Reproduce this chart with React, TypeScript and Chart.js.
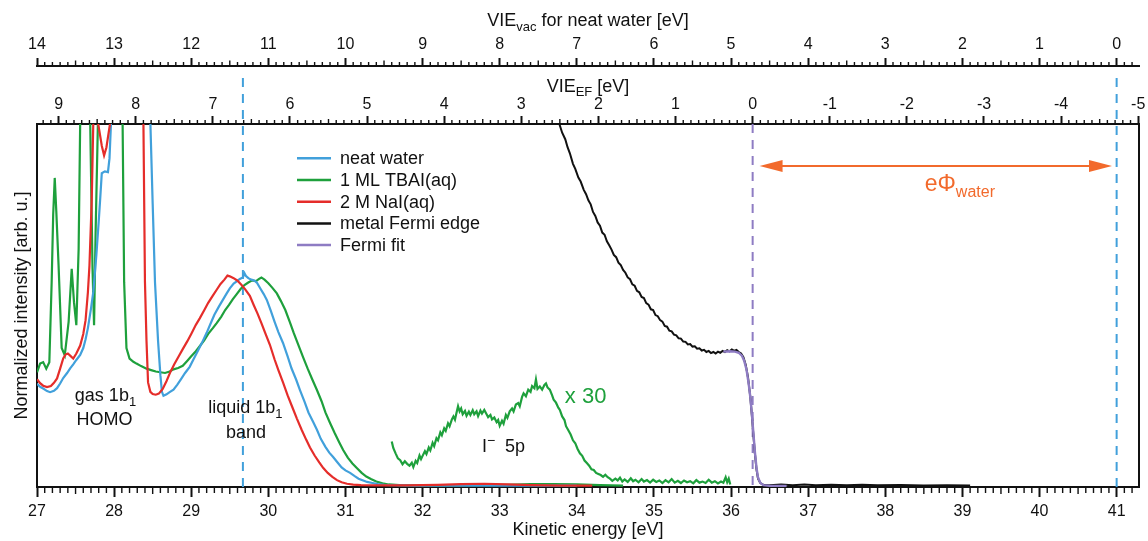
import { useEffect, useRef } from "react";
import { Chart, registerables } from "chart.js";

Chart.register(...registerables);

const FONT = "'Liberation Sans', Arial, Helvetica, sans-serif";
const TEXT = "#111111";
const AXIS = "#111111";
const BLUE = "#41a0db";
const GREEN = "#1ea03c";
const RED = "#e52d2a";
const BLACK = "#111111";
const PURPLE = "#8e7cc3";
const ORANGE = "#f26a2c";

// kinetic-energy range of the bottom axis [eV]
const KE_MIN = 27;
const KE_MAX = 41.29;
// reference energies used by the two top axes
const FERMI_KE = 36.28; // VIE_EF = FERMI_KE - KE
const VACUUM_KE = 41.0; // VIE_vac = VACUUM_KE - KE
const LIQUID_PEAK_KE = 29.67;

// ---- series: [kinetic energy (eV), normalized intensity] ----
const neatWater: [number, number][] = [
  [27.0, 28.2], [27.04, 27.4], [27.08, 26.9], [27.13, 26.2], [27.17, 25.9], [27.22, 26.3], [27.26, 27.0],
  [27.3, 28.3], [27.34, 29.8], [27.39, 31.2], [27.43, 32.5], [27.47, 33.6], [27.51, 34.8], [27.56, 36.2],
  [27.6, 38.1], [27.63, 40.5], [27.66, 43.6], [27.7, 49.0], [27.73, 53.6], [27.77, 63.8], [27.8, 73.0],
  [27.82, 79.5], [27.84, 86.4], [27.88, 86.9], [27.92, 86.7], [27.94, 90.5], [27.96, 100.5], [27.98, 130],
  [28.44, 130], [28.47, 100.5], [28.5, 78], [28.53, 56.3], [28.57, 40], [28.6, 30.6], [28.62, 26.0],
  [28.64, 24.9], [28.68, 25.3], [28.72, 25.9], [28.77, 26.6], [28.82, 28.0], [28.87, 29.6], [28.92, 31.2],
  [28.98, 32.9], [29.03, 35.0], [29.09, 37.5], [29.14, 39.6], [29.2, 42.3], [29.25, 44.8], [29.3, 47.3],
  [29.36, 49.6], [29.41, 51.4], [29.46, 53.2], [29.5, 54.6], [29.55, 55.9], [29.59, 56.5], [29.63, 57.2],
  [29.67, 57.6], [29.69, 58.8], [29.71, 58.0], [29.74, 57.4], [29.78, 57.0], [29.82, 56.7], [29.85, 56.2],
  [29.9, 54.4], [29.94, 53.0], [29.98, 51.4], [30.03, 48.5], [30.08, 45.4], [30.13, 42.5], [30.19, 39.5],
  [30.25, 35.8], [30.3, 32.5], [30.36, 29.4], [30.41, 26.5], [30.47, 23.2], [30.52, 20.3], [30.58, 17.7],
  [30.63, 15.5], [30.68, 13.0], [30.74, 10.8], [30.79, 9.2], [30.84, 8.0], [30.9, 6.4], [30.95, 5.1],
  [31.0, 4.3], [31.06, 3.6], [31.12, 2.7], [31.17, 2.0], [31.23, 1.5], [31.28, 1.1], [31.35, 0.8],
  [31.42, 0.5], [31.5, 0.3], [31.6, 0.2], [31.75, 0.15], [31.9, 0.1], [32.1, 0.1], [32.4, 0.1],
  [32.8, 0.1], [33.2, 0.1], [33.6, 0.1], [34.0, 0.1],
];

const tbai: [number, number][] = [
  [27.0, 31.4], [27.04, 33.8], [27.08, 34.2], [27.12, 32.4], [27.16, 34.2], [27.19, 56.2], [27.21, 75],
  [27.23, 85.1], [27.25, 76], [27.28, 60.8], [27.32, 38.1], [27.36, 36.1], [27.41, 45.3], [27.45, 60.0],
  [27.48, 50.7], [27.51, 44.4], [27.54, 65.6], [27.56, 100.5], [27.58, 130], [27.67, 130], [27.69, 100.5],
  [27.72, 60], [27.74, 44.4], [27.76, 70], [27.79, 100.5], [27.81, 130], [28.09, 130], [28.11, 100.5],
  [28.13, 56.3], [28.16, 38.1], [28.2, 35.2], [28.25, 34.3], [28.29, 33.8], [28.35, 33.1], [28.42, 32.4],
  [28.48, 32.0], [28.54, 31.6], [28.6, 31.4], [28.66, 31.2], [28.72, 31.6], [28.77, 32.2], [28.83, 32.6],
  [28.89, 33.2], [28.95, 34.6], [29.0, 35.8], [29.06, 37.2], [29.11, 38.6], [29.17, 40.3], [29.22, 42.0],
  [29.28, 43.6], [29.33, 45.0], [29.39, 46.8], [29.44, 48.6], [29.49, 50.0], [29.54, 51.6], [29.59, 53.0],
  [29.64, 54.4], [29.69, 55.5], [29.74, 56.2], [29.79, 56.8], [29.84, 56.6], [29.88, 57.2], [29.91, 57.6],
  [29.95, 57.0], [30.0, 56.0], [30.05, 54.8], [30.11, 53.2], [30.16, 51.2], [30.22, 48.6], [30.28, 45.2],
  [30.33, 42.2], [30.39, 38.9], [30.45, 35.6], [30.51, 32.4], [30.57, 29.4], [30.63, 26.5], [30.69, 23.4],
  [30.74, 20.3], [30.8, 17.4], [30.86, 14.6], [30.92, 12.0], [30.97, 9.9], [31.03, 7.8], [31.09, 6.2],
  [31.15, 4.9], [31.21, 3.6], [31.27, 2.6], [31.33, 1.9], [31.4, 1.2], [31.48, 0.7], [31.56, 0.4],
  [31.7, 0.2], [31.9, 0.15], [32.3, 0.15], [32.7, 0.2], [33.1, 0.3], [33.4, 0.5], [33.7, 0.5],
  [34.0, 0.4], [34.3, 0.2], [34.6, 0.1],
];

// I- 5p region of the TBAI spectrum, magnified x 30
const tbaiX30: [number, number][] = [
  [31.6, 12.3], [31.62, 10.5], [31.65, 9.0], [31.68, 7.6], [31.71, 7.1], [31.74, 6.0], [31.77, 6.8],
  [31.8, 6.1], [31.83, 5.6], [31.86, 6.4], [31.88, 5.2], [31.91, 6.9], [31.93, 6.3], [31.96, 8.4],
  [31.98, 7.4], [32.0, 8.3], [32.03, 9.6], [32.05, 8.8], [32.08, 10.6], [32.1, 9.8], [32.13, 11.9],
  [32.15, 11.0], [32.18, 13.2], [32.2, 12.6], [32.23, 14.8], [32.25, 14.0], [32.28, 15.9], [32.3, 15.2],
  [32.33, 17.3], [32.35, 16.5], [32.38, 18.4], [32.4, 19.2], [32.42, 18.3], [32.44, 20.2], [32.46, 22.0],
  [32.48, 20.6], [32.5, 21.4], [32.52, 19.8], [32.55, 20.7], [32.57, 19.4], [32.6, 20.5], [32.62, 19.6],
  [32.65, 20.9], [32.67, 19.8], [32.7, 20.6], [32.72, 19.3], [32.75, 20.8], [32.77, 20.0], [32.8, 21.0],
  [32.83, 19.8], [32.85, 19.0], [32.88, 19.6], [32.9, 18.4], [32.93, 18.9], [32.96, 17.6], [32.98, 18.2],
  [33.0, 16.6], [33.03, 18.0], [33.05, 17.2], [33.08, 19.6], [33.1, 18.8], [33.13, 20.6], [33.16, 21.4],
  [33.18, 20.6], [33.21, 22.5], [33.24, 22.9], [33.26, 22.0], [33.29, 24.6], [33.31, 25.6], [33.34, 24.8],
  [33.37, 26.6], [33.4, 26.0], [33.42, 27.6], [33.45, 27.0], [33.47, 29.4], [33.49, 26.8], [33.52, 27.5],
  [33.55, 26.6], [33.58, 27.9], [33.6, 28.3], [33.62, 27.2], [33.65, 26.6], [33.68, 25.0], [33.7, 23.8],
  [33.73, 23.0], [33.76, 21.6], [33.78, 21.0], [33.81, 19.2], [33.84, 18.2], [33.86, 16.5], [33.89, 15.4],
  [33.92, 14.2], [33.95, 12.6], [33.98, 11.8], [34.01, 10.2], [34.04, 9.0], [34.07, 8.3], [34.1, 7.0],
  [34.13, 6.3], [34.16, 5.6], [34.19, 4.6], [34.22, 4.4], [34.25, 3.6], [34.28, 3.3], [34.31, 3.0],
  [34.34, 2.5], [34.37, 3.1], [34.4, 2.4], [34.43, 2.0], [34.46, 1.4], [34.5, 2.0], [34.53, 1.5],
  [34.56, 2.3], [34.59, 1.2], [34.62, 1.8], [34.66, 1.1], [34.7, 2.1], [34.73, 1.3], [34.76, 1.7],
  [34.8, 1.0], [34.84, 1.9], [34.87, 1.2], [34.91, 1.6], [34.95, 0.9], [34.99, 1.7], [35.03, 1.1],
  [35.07, 1.5], [35.11, 0.8], [35.15, 1.6], [35.19, 1.0], [35.23, 1.9], [35.27, 0.9], [35.31, 1.4],
  [35.35, 0.8], [35.39, 1.5], [35.43, 1.0], [35.47, 1.3], [35.51, 0.7], [35.55, 1.6], [35.59, 0.9],
  [35.63, 1.2], [35.67, 0.8], [35.71, 1.7], [35.75, 0.9], [35.79, 1.3], [35.83, 0.7], [35.87, 1.2],
  [35.9, 0.9], [35.93, 2.4], [35.95, 1.0], [35.97, 2.0], [35.99, 0.4],
];

const nai: [number, number][] = [
  [27.0, 29.5], [27.04, 28.4], [27.08, 27.7], [27.13, 27.3], [27.18, 27.6], [27.22, 28.5], [27.26, 29.7],
  [27.3, 32.4], [27.34, 35.2], [27.37, 36.3], [27.4, 36.6], [27.43, 36.0], [27.47, 35.2], [27.51, 36.6],
  [27.56, 38.8], [27.6, 42.0], [27.63, 45.8], [27.66, 53.5], [27.68, 60.8], [27.71, 79.3], [27.73, 100.5],
  [27.75, 130], [27.77, 130], [27.79, 100.5], [27.84, 94], [27.87, 91.3], [27.9, 93.5], [27.95, 100.5],
  [27.97, 130], [28.36, 130], [28.38, 100.5], [28.4, 56.3], [28.42, 40], [28.44, 28.6], [28.47, 26.0],
  [28.5, 25.4], [28.54, 25.2], [28.58, 25.5], [28.63, 26.8], [28.68, 29.0], [28.73, 31.5], [28.78, 33.6],
  [28.84, 35.9], [28.89, 37.8], [28.95, 40.0], [29.0, 42.0], [29.06, 44.5], [29.11, 46.3], [29.17, 48.6],
  [29.22, 50.6], [29.28, 52.6], [29.33, 54.2], [29.38, 55.8], [29.43, 57.0], [29.47, 58.1], [29.5, 57.9],
  [29.55, 57.4], [29.6, 56.7], [29.65, 55.6], [29.7, 54.3], [29.76, 52.5], [29.81, 50.0], [29.86, 47.6],
  [29.91, 45.0], [29.96, 42.2], [30.02, 39.0], [30.08, 35.0], [30.13, 32.0], [30.19, 28.6], [30.25, 25.0],
  [30.31, 21.8], [30.37, 18.6], [30.43, 15.6], [30.49, 12.8], [30.54, 10.6], [30.6, 8.4], [30.66, 6.5],
  [30.71, 5.0], [30.77, 3.6], [30.83, 2.5], [30.89, 1.6], [30.95, 1.0], [31.02, 0.6], [31.1, 0.35],
  [31.2, 0.2], [31.4, 0.15], [31.8, 0.15], [32.2, 0.3], [32.5, 0.5], [32.8, 0.6], [33.1, 0.4],
  [33.4, 0.2], [33.8, 0.1], [34.2, 0.1],
];

const metalEdge: [number, number][] = [
  [33.7, 106], [33.74, 102.2], [33.78, 99.6], [33.81, 97.6], [33.85, 95.8], [33.88, 93.6], [33.91, 91.9],
  [33.95, 89.0], [33.98, 87.6], [34.02, 85.2], [34.05, 84.1], [34.09, 81.8], [34.12, 80.6], [34.15, 78.9],
  [34.18, 77.8], [34.21, 75.7], [34.24, 74.6], [34.27, 72.8], [34.3, 71.9], [34.33, 70.0], [34.36, 69.4],
  [34.39, 67.6], [34.42, 66.5], [34.45, 65.3], [34.48, 63.8], [34.51, 63.2], [34.54, 61.7], [34.57, 61.0],
  [34.6, 59.7], [34.63, 58.9], [34.66, 57.6], [34.69, 57.1], [34.72, 55.7], [34.75, 55.3], [34.78, 53.9],
  [34.81, 53.5], [34.84, 52.2], [34.87, 51.9], [34.9, 50.5], [34.93, 50.1], [34.96, 48.8], [34.99, 48.6],
  [35.02, 47.2], [35.05, 46.9], [35.08, 45.8], [35.11, 45.4], [35.14, 44.2], [35.17, 44.0], [35.2, 42.9],
  [35.23, 42.7], [35.26, 41.8], [35.29, 41.6], [35.32, 40.8], [35.35, 40.7], [35.38, 39.9], [35.41, 39.8],
  [35.44, 39.1], [35.47, 39.2], [35.5, 38.5], [35.53, 38.6], [35.56, 37.9], [35.59, 38.0], [35.62, 37.4],
  [35.65, 37.6], [35.68, 37.0], [35.71, 37.3], [35.74, 36.7], [35.77, 37.0], [35.8, 36.6], [35.83, 37.1],
  [35.86, 36.8], [35.89, 37.3], [35.92, 37.0], [35.95, 37.5], [35.98, 37.2], [36.01, 37.7], [36.04, 37.3],
  [36.07, 37.6], [36.1, 37.0], [36.13, 36.6], [36.16, 35.6], [36.19, 33.5], [36.22, 30.0], [36.25, 24.5],
  [36.27, 19.5], [36.29, 14.0], [36.31, 8.8], [36.33, 4.6], [36.35, 2.0], [36.38, 0.8], [36.42, 0.3],
  [36.5, 0.2], [36.65, 0.4], [36.8, 0.2], [36.95, 0.4], [37.1, 0.2], [37.3, 0.35], [37.5, 0.2],
  [37.7, 0.3], [37.9, 0.15], [38.2, 0.25], [38.5, 0.1], [38.8, 0.2], [39.1, 0.1],
];

const fermiFit: [number, number][] = [
  [35.9, 37.1], [35.98, 37.2], [36.05, 37.1], [36.1, 36.8], [36.14, 36.0], [36.17, 34.6], [36.2, 32.2],
  [36.23, 28.0], [36.25, 24.5], [36.27, 19.8], [36.29, 14.5], [36.31, 9.2], [36.33, 5.0], [36.35, 2.3],
  [36.38, 0.8], [36.42, 0.2], [36.5, 0.05], [36.72, 0.0],
];

const seriesLabels = ["neat water", "1 ML TBAI(aq)", "2 M NaI(aq)", "metal Fermi edge", "Fermi fit"];
const seriesColors = [BLUE, GREEN, RED, BLACK, PURPLE];

type Part = { t: string; size?: number; dy?: number };
type Note = { ke: number; val: number; align: "left" | "center"; size: number; color: string; parts: Part[] };

// text annotations, anchored in data coordinates (kinetic energy, intensity)
const notes: Note[] = [
  { ke: 27.888, val: 23.4, align: "center", size: 18, color: TEXT, parts: [{ t: "gas 1b" }, { t: "1", size: 13, dy: 5 }] },
  { ke: 27.875, val: 16.8, align: "center", size: 18, color: TEXT, parts: [{ t: "HOMO" }] },
  { ke: 29.703, val: 20.1, align: "center", size: 18, color: TEXT, parts: [{ t: "liquid 1b" }, { t: "1", size: 13, dy: 5 }] },
  { ke: 29.709, val: 13.2, align: "center", size: 18, color: TEXT, parts: [{ t: "band" }] },
  { ke: 32.769, val: 9.4, align: "left", size: 18, color: TEXT, parts: [{ t: "I" }, { t: "\u2212", size: 14, dy: -7 }, { t: "  5p" }] },
  { ke: 33.844, val: 22.8, align: "left", size: 22, color: GREEN, parts: [{ t: "x 30" }] },
  { ke: 38.511, val: 81.5, align: "left", size: 23, color: ORANGE, parts: [{ t: "e\u03A6" }, { t: "water", size: 16, dy: 6 }] },
];

// work-function arrow (kinetic energy from/to, intensity level)
const arrowFromKE = 36.37;
const arrowToKE = 40.94;
const arrowLevel = 88.4;

function drawParts(ctx: CanvasRenderingContext2D, parts: Part[], x: number, y: number, align: string, base: number, color: string) {
  ctx.save();
  ctx.fillStyle = color;
  ctx.textBaseline = "alphabetic";
  ctx.textAlign = "left";
  let w = 0;
  for (const p of parts) {
    ctx.font = `${p.size ?? base}px ${FONT}`;
    w += ctx.measureText(p.t).width;
  }
  let cx = align === "center" ? x - w / 2 : x;
  for (const p of parts) {
    ctx.font = `${p.size ?? base}px ${FONT}`;
    ctx.fillText(p.t, cx, y + (p.dy ?? 0));
    cx += ctx.measureText(p.t).width;
  }
  ctx.restore();
}

function drawMinorTicks(ctx: CanvasRenderingContext2D, scale: any, side: "top" | "bottom", minor: number, mid: number) {
  const lo = Math.ceil(scale.min * 10 - 1e-6);
  const hi = Math.floor(scale.max * 10 + 1e-6);
  ctx.save();
  ctx.strokeStyle = AXIS;
  ctx.lineWidth = 1.4;
  ctx.beginPath();
  for (let i = lo; i <= hi; i++) {
    const r = ((i % 10) + 10) % 10;
    if (r === 0) continue;
    const len = r === 5 ? mid : minor;
    const px = scale.getPixelForValue(i / 10);
    if (side === "bottom") {
      ctx.moveTo(px, scale.top);
      ctx.lineTo(px, scale.top + len);
    } else {
      ctx.moveTo(px, scale.bottom);
      ctx.lineTo(px, scale.bottom - len);
    }
  }
  ctx.stroke();
  ctx.restore();
}

const overlayPlugin = {
  id: "overlay",
  beforeDatasetsDraw(chart: any) {
    const { ctx, chartArea, scales } = chart;
    const x = scales.x;
    const markers = [
      { ke: LIQUID_PEAK_KE, color: BLUE, top: scales.xVac.bottom + 12 },
      { ke: VACUUM_KE, color: BLUE, top: scales.xVac.bottom + 12 },
      { ke: FERMI_KE, color: PURPLE, top: chartArea.top },
    ];
    ctx.save();
    ctx.setLineDash([9, 7]);
    ctx.lineWidth = 2;
    for (const m of markers) {
      const px = x.getPixelForValue(m.ke);
      ctx.strokeStyle = m.color;
      ctx.beginPath();
      ctx.moveTo(px, m.top);
      ctx.lineTo(px, chartArea.bottom);
      ctx.stroke();
    }
    ctx.restore();
  },
  afterDatasetsDraw(chart: any) {
    const { ctx, chartArea, scales } = chart;
    const x = scales.x;
    const y = scales.y;

    // work-function double arrow
    const x1 = x.getPixelForValue(arrowFromKE);
    const x2 = x.getPixelForValue(arrowToKE);
    const ya = y.getPixelForValue(arrowLevel);
    const head = 23;
    const half = 6;
    ctx.save();
    ctx.strokeStyle = ORANGE;
    ctx.fillStyle = ORANGE;
    ctx.lineWidth = 2.2;
    ctx.beginPath();
    ctx.moveTo(x1 + head - 2, ya);
    ctx.lineTo(x2 - head + 2, ya);
    ctx.stroke();
    ctx.beginPath();
    ctx.moveTo(x1, ya);
    ctx.lineTo(x1 + head, ya - half);
    ctx.lineTo(x1 + head, ya + half);
    ctx.closePath();
    ctx.fill();
    ctx.beginPath();
    ctx.moveTo(x2, ya);
    ctx.lineTo(x2 - head, ya - half);
    ctx.lineTo(x2 - head, ya + half);
    ctx.closePath();
    ctx.fill();
    ctx.restore();

    // annotations
    for (const n of notes) {
      drawParts(ctx, n.parts, x.getPixelForValue(n.ke), y.getPixelForValue(n.val), n.align, n.size, n.color);
    }

    // legend
    const lx = chartArea.left + 260;
    const ly = chartArea.top + 34.3;
    ctx.save();
    ctx.font = `18px ${FONT}`;
    ctx.textBaseline = "middle";
    ctx.textAlign = "left";
    seriesLabels.forEach((label, i) => {
      const yy = ly + i * 21.7;
      ctx.strokeStyle = seriesColors[i];
      ctx.lineWidth = 2.5;
      ctx.beginPath();
      ctx.moveTo(lx, yy);
      ctx.lineTo(lx + 34, yy);
      ctx.stroke();
      ctx.fillStyle = TEXT;
      ctx.fillText(label, lx + 43, yy + 1);
    });
    ctx.restore();
  },
  afterDraw(chart: any) {
    const { ctx, scales, chartArea } = chart;
    drawMinorTicks(ctx, scales.x, "bottom", 6, 7);
    drawMinorTicks(ctx, scales.xEF, "top", 4, 5);
    drawMinorTicks(ctx, scales.xVac, "top", 4, 5.5);
    const cx = (chartArea.left + chartArea.right) / 2;
    drawParts(ctx, [{ t: "VIE" }, { t: "vac", size: 13, dy: 5 }, { t: " for neat water [eV]" }], cx, scales.xVac.top + 26, "center", 18, TEXT);
    drawParts(ctx, [{ t: "VIE" }, { t: "EF", size: 13, dy: 4 }, { t: " [eV]" }], cx, scales.xEF.top + 25.7, "center", 18, TEXT);
  },
};

const tickFont = { family: FONT, size: 16 };
const intLabel = (v: any) => String(Math.round(Number(v)));

export default function App() {
  const ref = useRef<HTMLCanvasElement | null>(null);

  useEffect(() => {
    if (!ref.current) return;
    const toXY = (arr: [number, number][]) => arr.map(([a, b]) => ({ x: a, y: b }));
    const line = (label: string, data: [number, number][], color: string, width = 2.2) => ({
      label,
      data: toXY(data),
      borderColor: color,
      backgroundColor: color,
      borderWidth: width,
      pointRadius: 0,
      pointHoverRadius: 0,
      tension: 0,
      fill: false,
      clip: 0,
      xAxisID: "x",
      yAxisID: "y",
    });

    // first dataset is drawn on top
    const chart = new Chart(ref.current, {
      type: "line",
      data: {
        datasets: [
          line(seriesLabels[4], fermiFit, PURPLE, 2.4),
          line(seriesLabels[2], nai, RED),
          line(seriesLabels[0], neatWater, BLUE),
          line(seriesLabels[1], tbai, GREEN),
          line(seriesLabels[1] + " x30", tbaiX30, GREEN),
          line(seriesLabels[3], metalEdge, BLACK, 2),
        ],
      },
      options: {
        animation: false,
        responsive: true,
        maintainAspectRatio: false,
        events: [],
        layout: { padding: 0 },
        plugins: { legend: { display: false }, tooltip: { enabled: false }, title: { display: false } },
        scales: {
          x: {
            type: "linear",
            position: "bottom",
            min: KE_MIN,
            max: KE_MAX,
            ticks: { stepSize: 1, maxTicksLimit: 100, includeBounds: false, autoSkip: false, maxRotation: 0, padding: 5, color: TEXT, font: tickFont, callback: intLabel },
            grid: { display: true, drawOnChartArea: false, drawTicks: true, tickLength: 10, tickWidth: 2, tickColor: AXIS },
            border: { display: true, color: AXIS, width: 2 },
            title: { display: true, text: "Kinetic energy [eV]", color: TEXT, font: { family: FONT, size: 18 }, padding: { top: 0, bottom: 0 } },
            afterFit: (s: any) => { s.height = 54; },
          },
          xEF: {
            type: "linear",
            position: "top",
            weight: 0,
            reverse: true,
            min: FERMI_KE - KE_MAX,
            max: FERMI_KE - KE_MIN,
            ticks: { stepSize: 1, maxTicksLimit: 100, includeBounds: false, autoSkip: false, maxRotation: 0, padding: 1.4, color: TEXT, font: tickFont, callback: intLabel },
            grid: { display: true, drawOnChartArea: false, drawTicks: true, tickLength: 8, tickWidth: 2, tickColor: AXIS },
            border: { display: true, color: AXIS, width: 2 },
            title: { display: false },
            afterFit: (s: any) => { s.height = 58; },
          },
          xVac: {
            type: "linear",
            position: "top",
            weight: 1,
            reverse: true,
            min: VACUUM_KE - KE_MAX,
            max: VACUUM_KE - KE_MIN,
            ticks: { stepSize: 1, maxTicksLimit: 100, includeBounds: false, autoSkip: false, maxRotation: 0, padding: 3.4, color: TEXT, font: tickFont, callback: intLabel },
            grid: { display: true, drawOnChartArea: false, drawTicks: true, tickLength: 8, tickWidth: 2, tickColor: AXIS },
            border: { display: true, color: AXIS, width: 2 },
            title: { display: false },
            afterFit: (s: any) => { s.height = 66; },
          },
          y: {
            type: "linear",
            position: "left",
            min: -0.3,
            max: 100,
            ticks: { display: false },
            grid: { display: false, drawTicks: false },
            border: { display: true, color: AXIS, width: 2 },
            title: { display: true, text: "Normalized intensity [arb. u.]", color: TEXT, font: { family: FONT, size: 18 }, padding: { top: 11, bottom: 0 } },
            afterFit: (s: any) => { s.width = 37; },
          },
          yR: {
            type: "linear",
            position: "right",
            min: 0,
            max: 1,
            ticks: { display: false },
            grid: { display: false, drawTicks: false },
            border: { display: true, color: AXIS, width: 2 },
            afterFit: (s: any) => { s.width = 9; },
          },
        },
      } as any,
      plugins: [overlayPlugin],
    });
    return () => chart.destroy();
  }, []);

  return (
    <div style={{ position: "absolute", left: 0, top: 0, width: 1148, height: 541, background: "#fff" }}>
      <canvas ref={ref} />
    </div>
  );
}
